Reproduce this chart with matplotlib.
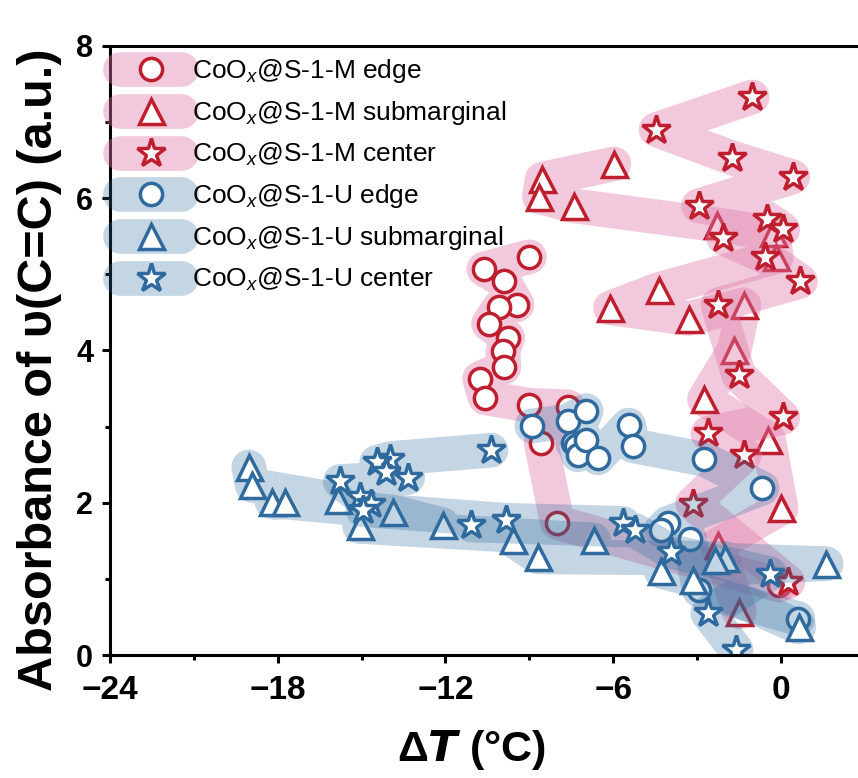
import numpy as np
import matplotlib
matplotlib.use("Agg")
import matplotlib.pyplot as plt
from matplotlib.ticker import MultipleLocator

plt.rcParams['font.family'] = ['Liberation Sans', 'DejaVu Sans']
plt.rcParams['mathtext.fontset'] = 'custom'
plt.rcParams['mathtext.rm'] = 'Liberation Sans'
plt.rcParams['mathtext.it'] = 'Liberation Sans:italic'
plt.rcParams['mathtext.bf'] = 'Liberation Sans:bold'

# CoOx@S-1-M
m_edge_x = [-9.00, -10.63, -9.91, -9.44, -10.07, -10.46, -9.77, -9.95, -9.91, -10.78,
            -10.58, -9.00, -7.63, -8.58, -8.00, -0.06]
m_edge_y = [5.23, 5.07, 4.91, 4.60, 4.57, 4.35, 4.17, 3.99, 3.78, 3.63,
            3.38, 3.28, 3.26, 2.79, 1.74, 0.92]

m_sub_x = [-5.98, -8.54, -8.64, -7.41, -2.30, -0.30, -0.17, -4.38, -6.10, -3.31,
           -1.33, -1.67, -2.74, -0.45, 0.00, -2.26, -1.49]
m_sub_y = [6.45, 6.25, 6.02, 5.90, 5.65, 5.54, 5.23, 4.80, 4.56, 4.42,
           4.60, 4.01, 3.36, 2.83, 1.93, 1.45, 0.57]

m_cen_x = [-1.03, -4.47, -1.76, 0.42, -2.95, -0.50, 0.06, -2.06, -0.57, 0.69,
           -2.26, -1.52, 0.06, -2.62, -1.31, -3.16, 0.24]
m_cen_y = [7.33, 6.90, 6.53, 6.28, 5.90, 5.73, 5.59, 5.48, 5.23, 4.91,
           4.60, 3.68, 3.12, 2.91, 2.63, 1.99, 0.96]

# CoOx@S-1-U
u_edge_x = [-8.91, -7.63, -6.97, -7.45, -7.33, -7.27, -6.97, -6.55, -5.45, -5.30,
            -2.74, -0.68, -4.05, -4.29, -3.27, -2.92, 0.60]
u_edge_y = [3.01, 3.07, 3.21, 2.78, 2.74, 2.63, 2.83, 2.59, 3.02, 2.75,
            2.57, 2.19, 1.73, 1.64, 1.53, 0.85, 0.48]

u_sub_x = [-19.03, -18.91, -15.85, -18.20, -17.72, -13.88, -12.10, -15.07, -6.70, -9.59,
           -8.70, -2.02, -2.38, 1.61, -4.29, -3.16, 0.63]
u_sub_y = [2.47, 2.23, 2.04, 2.01, 2.01, 1.88, 1.71, 1.69, 1.51, 1.51,
           1.29, 1.27, 1.25, 1.20, 1.10, 0.99, 0.37]

u_cen_x = [-10.37, -14.00, -14.46, -14.12, -13.35, -15.76, -15.07, -14.65, -14.96, -9.85,
           -5.66, -11.08, -5.24, -3.93, -0.41, -2.62, -1.61]
u_cen_y = [2.69, 2.58, 2.53, 2.41, 2.33, 2.28, 2.08, 1.99, 1.91, 1.77,
           1.73, 1.71, 1.64, 1.36, 1.07, 0.55, 0.07]

labels = [r'CoO$_{x}$@S-1-M edge', r'CoO$_{x}$@S-1-M submarginal', r'CoO$_{x}$@S-1-M center',
          r'CoO$_{x}$@S-1-U edge', r'CoO$_{x}$@S-1-U submarginal', r'CoO$_{x}$@S-1-U center']

red = '#be1e2d'
blue = '#2e6a9e'
pink = '#e07aa8'

series = [
    (m_edge_x, m_edge_y, 'o', red, pink, 0.40),
    (m_sub_x, m_sub_y, '^', red, pink, 0.40),
    (m_cen_x, m_cen_y, '*', red, pink, 0.40),
    (u_edge_x, u_edge_y, 'o', blue, blue, 0.28),
    (u_sub_x, u_sub_y, '^', blue, blue, 0.28),
    (u_cen_x, u_cen_y, '*', blue, blue, 0.28),
]
msizes = {'o': 16, '^': 18, '*': 21}

fig = plt.figure(figsize=(8.58, 7.78), dpi=100)
ax = fig.add_axes([0.128, 0.158, 0.872, 0.783])

handles = []
for (x, y, mk, ec, bc, a), lab in zip(series, labels):
    # wide translucent band first, then the open markers on top
    band, = ax.plot(x, y, color=bc, alpha=a, lw=25, solid_capstyle='round',
                    solid_joinstyle='round')
    pts, = ax.plot(x, y, ls='none', marker=mk, ms=msizes[mk], mfc='white',
                   mec=ec, mew=2.5)
    handles.append((band, pts))

ax.set_xlim(-24, 2.75)
ax.set_ylim(0, 8)
ax.xaxis.set_major_locator(MultipleLocator(6))
ax.xaxis.set_minor_locator(MultipleLocator(3))
ax.yaxis.set_major_locator(MultipleLocator(2))
ax.yaxis.set_minor_locator(MultipleLocator(1))

for s in ['left', 'bottom', 'top']:
    ax.spines[s].set_linewidth(2.2)
ax.spines['right'].set_visible(False)
ax.tick_params(which='major', length=6, width=2.2, pad=6)
ax.tick_params(which='minor', length=3.5, width=2.2)
ax.tick_params(axis='x', which='both', top=False, pad=8)

for t in ax.get_xticklabels():
    t.set_fontweight('bold')
    t.set_fontsize(24)
for t in ax.get_yticklabels():
    t.set_fontweight('bold')
    t.set_fontsize(22)

ax.set_xlabel(r'$\mathbf{\Delta}\boldsymbol{T}$ (°C)', fontsize=31, fontweight='bold')
ax.xaxis.set_label_coords(0.484, -0.12)
ax.set_ylabel('Absorbance of υ(C=C) (a.u.)', fontsize=35, fontweight='bold')
ax.yaxis.set_label_coords(-0.064, 0.468)

ax.legend(handles, labels, loc='upper left', bbox_to_anchor=(0.0, 0.999),
          frameon=False, fontsize=19, handlelength=2.3, handletextpad=0.4,
          labelspacing=0.53, borderaxespad=0, numpoints=1)

fig.savefig('out.png', dpi=100)
